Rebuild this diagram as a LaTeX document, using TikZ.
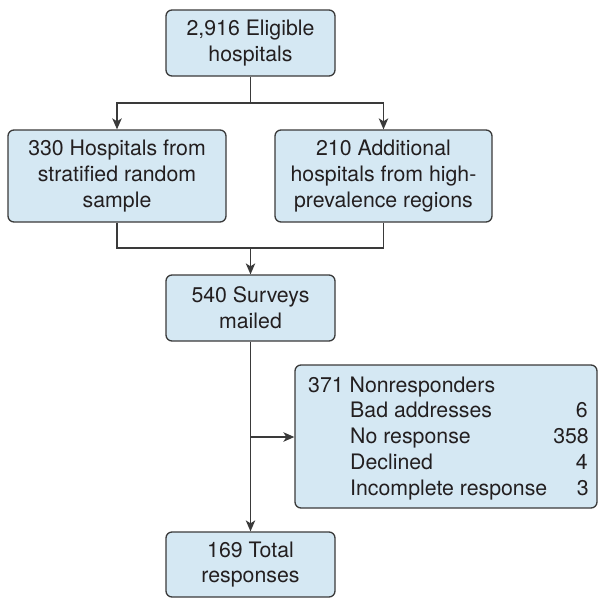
\documentclass[tikz,border=0pt]{standalone}
\usepackage{fontspec}
\setmainfont{TeX Gyre Heros}
\usetikzlibrary{arrows.meta}
\definecolor{boxfill}{HTML}{D5E8F3}
\definecolor{boxline}{HTML}{3A3A3A}
\definecolor{txt}{HTML}{231F20}
\tikzset{
  flowbox/.style={draw=boxline, fill=boxfill, line width=1.3pt, rounded corners=6pt,
    align=center, inner sep=0pt, text=txt, font=\fontsize{21.3}{25.7}\selectfont},
  conn/.style={draw=boxline, line width=1.3pt},
  arr/.style={conn, -{Stealth[length=11pt,width=9.5pt,inset=3pt]}},
  listtxt/.style={text=txt, inner sep=0pt, font=\fontsize{21.3}{25.7}\selectfont}
}
\begin{document}
\begin{tikzpicture}[x=1pt,y=-1pt]
\useasboundingbox (0,0) rectangle (600,598);
\node[flowbox, minimum width=169pt, minimum height=66pt] (top) at (250.5,43) {2,916 Eligible\\hospitals};
\node[flowbox, minimum width=218pt, minimum height=92pt] (left) at (117,176) {330 Hospitals from\\stratified random\\sample};
\node[flowbox, minimum width=217pt, minimum height=92pt] (right) at (383.5,176) {210 Additional\\hospitals from high-\\prevalence regions};
\node[flowbox, minimum width=169pt, minimum height=66pt] (mid) at (250.5,308) {540 Surveys\\mailed};
\node[flowbox, minimum width=302pt, minimum height=143pt] (nonr) at (446,436.5) {};
\node[flowbox, minimum width=169pt, minimum height=65pt] (bot) at (250.5,564.5) {169 Total\\responses};

\node[listtxt, anchor=base west] (n0) at (308,392) {371 Nonresponders};
\node[listtxt, anchor=base west] (n1) at (350,417.7) {Bad addresses};
\node[listtxt, anchor=base west] (n2) at (350,443.3) {No response};
\node[listtxt, anchor=base west] (n3) at (350,469) {Declined};
\node[listtxt, anchor=base west] (n4) at (350,495) {Incomplete response};
\node[listtxt, anchor=base east] (v1) at (588,417.7) {6};
\node[listtxt, anchor=base east] (v2) at (589,443.3) {358};
\node[listtxt, anchor=base east] (v3) at (588,469) {4};
\node[listtxt, anchor=base east] (v4) at (589,495) {3};

\coordinate (j1) at (250.5,103);
\coordinate (j2) at (250.5,248);
\coordinate (j3) at (250.5,437);
\draw[conn] (top.south) -- (j1);
\draw[arr] (j1) -| (left.north);
\draw[arr] (j1) -| (right.north);
\draw[conn] (left.south) |- (j2);
\draw[conn] (right.south) |- (j2);
\draw[arr] (j2) -- (mid.north);
\draw[arr] (mid.south) -- (bot.north);
\draw[arr] (j3) -- (nonr.west |- j3);
\end{tikzpicture}
\end{document}
